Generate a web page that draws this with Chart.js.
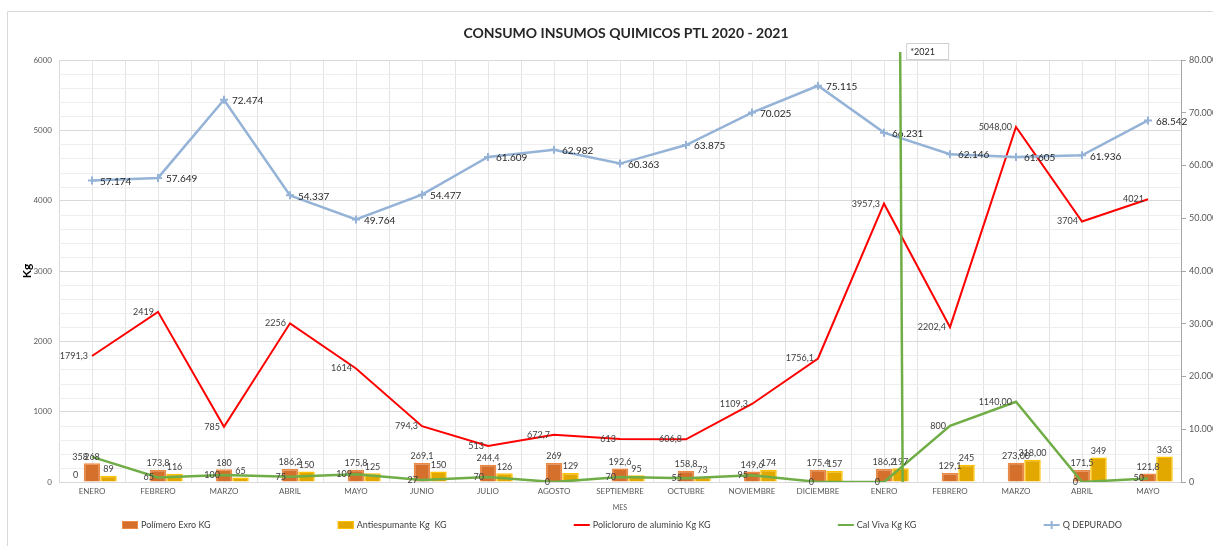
<!DOCTYPE html>
<html>
<head>
<meta charset="utf-8">
<script src="https://cdn.jsdelivr.net/npm/chart.js@4.4.0/dist/chart.umd.min.js"></script>
<style>
  html, body { margin: 0; padding: 0; background: #fff; }
  canvas { display: block; }
</style>
</head>
<body>
<canvas id="grafico" width="1213" height="546"></canvas>
<script>
// datos
const meses = ['ENERO', 'FEBRERO', 'MARZO', 'ABRIL', 'MAYO', 'JUNIO', 'JULIO', 'AGOSTO', 'SEPTIEMBRE',
  'OCTUBRE', 'NOVIEMBRE', 'DICIEMBRE', 'ENERO', 'FEBRERO', 'MARZO', 'ABRIL', 'MAYO'];
// serie sin nombre (solo aparece su "0" en el primer mes)
const sinNombre = [0, null, null, null, null, null, null, null, null, null, null, null, null, null, null, null, null];
const polimero = [268, 173.8, 180, 186.2, 175.8, 269.1, 244.4, 269, 192.6, 158.8, 149.6, 175.4, 186.2, 129.1, 273, 171.5, 121.8];
const antiespumante = [89, 116, 65, 150, 125, 150, 126, 129, 95, 73, 174, 157, 197, 245, 318, 349, 363];
const policloruro = [1791.3, 2419, 785, 2256, 1614, 794.3, 513, 672.7, 613, 606.8, 1109.3, 1756.1, 3957.3, 2202.4, 5048, 3704, 4021];
const calViva = [358, 65, 100, 75, 109, 27, 70, 0, 70, 55, 95, 0, 0, 800, 1140, 0, 50];
const qDepurado = [57174, 57649, 72474, 54337, 49764, 54477, 61609, 62982, 60363, 63875, 70025, 75115, 66231, 62146, 61605, 61936, 68542];
// meses cuyos valores se muestran con 2 decimales
const dosDecimales = [14];
// inicio de 2021 (en unidades de categoria)
const inicio2021 = 12.26;
const titulo = 'CONSUMO INSUMOS QUIMICOS PTL 2020 - 2021';

const FUENTE = "Lato, 'Open Sans', sans-serif";
const GRIS_TEXTO = '#404040';

function fmtKg(v, i) {
  if (dosDecimales.includes(i)) return v.toFixed(2).replace('.', ',');
  return Number.isInteger(v) ? String(v) : v.toFixed(1).replace('.', ',');
}
function fmtMiles(v) {
  return String(v).replace(/\B(?=(\d{3})+(?!\d))/g, '.');
}

// marco del area del grafico + titulo
const marco = {
  id: 'marco',
  beforeDraw(chart) {
    const ctx = chart.ctx;
    ctx.save();
    ctx.strokeStyle = '#d9d9d9';
    ctx.lineWidth = 1;
    ctx.beginPath();
    ctx.moveTo(7.5, chart.height);
    ctx.lineTo(7.5, 11.5);
    ctx.lineTo(chart.width, 11.5);
    ctx.stroke();
    ctx.fillStyle = '#262626';
    ctx.font = 'bold 14px ' + FUENTE;
    ctx.textAlign = 'center';
    ctx.textBaseline = 'middle';
    ctx.fillText(titulo, 626, 33);
    ctx.restore();
  }
};

// lineas de division secundarias
const rejilla = {
  id: 'rejilla',
  beforeDatasetsDraw(chart) {
    const {ctx, chartArea: a, scales: {x, y}} = chart;
    ctx.save();
    ctx.lineWidth = 1;
    ctx.strokeStyle = '#eeeeee';
    for (let v = 200; v < 6000; v += 200) {
      if (v % 1000 === 0) continue;
      const py = Math.round(y.getPixelForValue(v)) + 0.5;
      ctx.beginPath(); ctx.moveTo(a.left, py); ctx.lineTo(a.right, py); ctx.stroke();
    }
    ctx.strokeStyle = '#e6e6e6';
    meses.forEach((m, i) => {
      const px = Math.round(x.getPixelForValue(i)) + 0.5;
      ctx.beginPath(); ctx.moveTo(px, a.top); ctx.lineTo(px, a.bottom); ctx.stroke();
    });
    ctx.restore();
  }
};

// etiquetas de datos
const etiquetas = {
  id: 'etiquetas',
  afterDatasetsDraw(chart) {
    const ctx = chart.ctx;
    ctx.save();
    chart.data.datasets.forEach((ds, di) => {
      const meta = chart.getDatasetMeta(di);
      meta.data.forEach((el, i) => {
        const v = ds.data[i];
        if (v === null || v === undefined) return;
        if (ds.type === 'bar') {
          ctx.font = '9px ' + FUENTE;
          ctx.fillStyle = GRIS_TEXTO;
          ctx.textAlign = 'center';
          ctx.textBaseline = 'bottom';
          ctx.fillText(fmtKg(v, i), el.x, el.y - 2);
        } else if (ds.yAxisID === 'y1') {
          ctx.font = '10px ' + FUENTE;
          ctx.fillStyle = '#262626';
          ctx.textAlign = 'left';
          ctx.textBaseline = 'middle';
          ctx.fillText(fmtMiles(v), el.x + 8, el.y + 1);
        } else {
          ctx.font = '9px ' + FUENTE;
          ctx.fillStyle = GRIS_TEXTO;
          ctx.textAlign = 'right';
          ctx.textBaseline = 'middle';
          ctx.fillText(fmtKg(v, i), el.x - 4, el.y);
        }
      });
    });
    ctx.restore();
  }
};

// linea que separa 2021
const separador = {
  id: 'separador',
  afterDatasetsDraw(chart) {
    const {ctx, chartArea: a, scales: {x}} = chart;
    const paso = x.getPixelForValue(1) - x.getPixelForValue(0);
    const px = x.getPixelForValue(Math.floor(inicio2021)) + paso * (inicio2021 % 1);
    ctx.save();
    ctx.strokeStyle = '#70AD47';
    ctx.lineWidth = 2.5;
    ctx.beginPath();
    ctx.moveTo(px - 1, a.top - 8);
    ctx.lineTo(px + 1.5, a.bottom);
    ctx.stroke();
    ctx.fillStyle = '#fff';
    ctx.strokeStyle = '#d0d0d0';
    ctx.lineWidth = 1;
    ctx.fillRect(px + 5.5, a.top - 16.5, 42, 16);
    ctx.strokeRect(px + 5.5, a.top - 16.5, 42, 16);
    ctx.fillStyle = '#262626';
    ctx.font = '9px ' + FUENTE;
    ctx.textAlign = 'left';
    ctx.textBaseline = 'middle';
    ctx.fillText('*2021', px + 9, a.top - 8);
    ctx.restore();
  }
};

// leyenda dibujada a mano (espaciado como en Excel)
const leyenda = {
  id: 'leyenda',
  afterDraw(chart) {
    const ctx = chart.ctx;
    const cy = 525;
    const inicio = 122, fin = 1122, simbolo = 16, sep = 3;
    ctx.save();
    ctx.font = '9px ' + FUENTE;
    const items = chart.data.datasets.filter(ds => ds.label).map(ds => ({ds, w: simbolo + sep + ctx.measureText(ds.label).width}));
    const total = items.reduce((s, it) => s + it.w, 0);
    const hueco = (fin - inicio - total) / (items.length - 1);
    let cx = inicio;
    items.forEach(({ds, w}) => {
      if (ds.type === 'bar') {
        ctx.fillStyle = ds.backgroundColor;
        ctx.fillRect(cx, cy - 4, simbolo, 8);
        ctx.strokeStyle = ds.borderColor;
        ctx.lineWidth = 1;
        ctx.strokeRect(cx + 0.5, cy - 3.5, simbolo - 1, 7);
      } else {
        ctx.strokeStyle = ds.borderColor;
        ctx.lineWidth = 2;
        ctx.beginPath(); ctx.moveTo(cx, cy); ctx.lineTo(cx + simbolo, cy); ctx.stroke();
        if (ds.pointRadius > 0) {
          ctx.beginPath();
          ctx.moveTo(cx + simbolo / 2, cy - 4); ctx.lineTo(cx + simbolo / 2, cy + 4);
          ctx.stroke();
        }
      }
      ctx.fillStyle = GRIS_TEXTO;
      ctx.textAlign = 'left';
      ctx.textBaseline = 'middle';
      ctx.fillText(ds.label, cx + simbolo + sep, cy);
      cx += w + hueco;
    });
    ctx.restore();
  }
};

const ctx = document.getElementById('grafico').getContext('2d');
new Chart(ctx, {
  type: 'bar',
  data: {
    labels: meses,
    datasets: [
      {
        type: 'bar', label: '', data: sinNombre, yAxisID: 'y', order: 3,
        backgroundColor: 'rgba(0,0,0,0)', borderWidth: 0,
        categoryPercentage: 0.75, barPercentage: 1
      },
      {
        type: 'bar', label: 'Polímero Exro KG', data: polimero, yAxisID: 'y', order: 3,
        backgroundColor: '#D5702C', borderColor: '#EC8A45', borderWidth: 1.5,
        categoryPercentage: 0.75, barPercentage: 1
      },
      {
        type: 'bar', label: 'Antiespumante Kg  KG', data: antiespumante, yAxisID: 'y', order: 3,
        backgroundColor: '#E2A800', borderColor: '#FFC000', borderWidth: 1.5,
        categoryPercentage: 0.75, barPercentage: 1
      },
      {
        type: 'line', label: 'Policloruro de aluminio Kg KG', data: policloruro, yAxisID: 'y', order: 2,
        borderColor: '#FF0000', backgroundColor: '#FF0000', borderWidth: 2, pointRadius: 0, tension: 0
      },
      {
        type: 'line', label: 'Cal Viva Kg KG', data: calViva, yAxisID: 'y', order: 1,
        borderColor: '#70AD47', backgroundColor: '#70AD47', borderWidth: 2.5, pointRadius: 0, tension: 0
      },
      {
        type: 'line', label: 'Q DEPURADO', data: qDepurado, yAxisID: 'y1', order: 0,
        borderColor: '#95B3D7', backgroundColor: '#95B3D7', borderWidth: 2.5, tension: 0,
        pointStyle: 'cross', pointRadius: 4, pointBorderWidth: 2
      }
    ]
  },
  options: {
    responsive: false,
    animation: false,
    layout: { padding: { left: 8, right: 0, top: 60, bottom: 32 } },
    plugins: {
      legend: { display: false },
      tooltip: { enabled: false },
      title: { display: false }
    },
    scales: {
      x: {
        grid: { color: '#e4e4e4', offset: true, drawTicks: false },
        border: { color: '#d9d9d9' },
        ticks: { font: { family: FUENTE, size: 8 }, color: '#595959', padding: 5, autoSkip: false, maxRotation: 0 },
        title: { display: true, text: 'MES', color: '#595959', font: { family: FUENTE, size: 7 }, padding: { top: 0, bottom: 2 } },
        afterFit(s) { s.height = 32; }
      },
      y: {
        position: 'left', min: 0, max: 6000,
        ticks: { stepSize: 1000, callback: v => String(v), font: { family: FUENTE, size: 8 }, color: '#595959', padding: 7 },
        grid: { color: '#d9d9d9', drawTicks: false },
        border: { color: '#d9d9d9' },
        title: { display: true, text: 'Kg', color: '#000', font: { family: FUENTE, size: 12, weight: 'bold' }, padding: { top: 12, bottom: 0 } },
        afterFit(s) { s.width = 51; }
      },
      y1: {
        position: 'right', min: 0, max: 80000,
        ticks: { stepSize: 10000, callback: v => fmtMiles(v), font: { family: FUENTE, size: 9 }, color: '#595959', padding: 3 },
        grid: { drawOnChartArea: false, drawTicks: true, tickLength: 5, color: '#a6a6a6' },
        border: { color: '#a6a6a6' },
        afterFit(s) { s.width = 32; }
      }
    }
  },
  plugins: [marco, rejilla, etiquetas, separador, leyenda]
});
</script>
</body>
</html>
